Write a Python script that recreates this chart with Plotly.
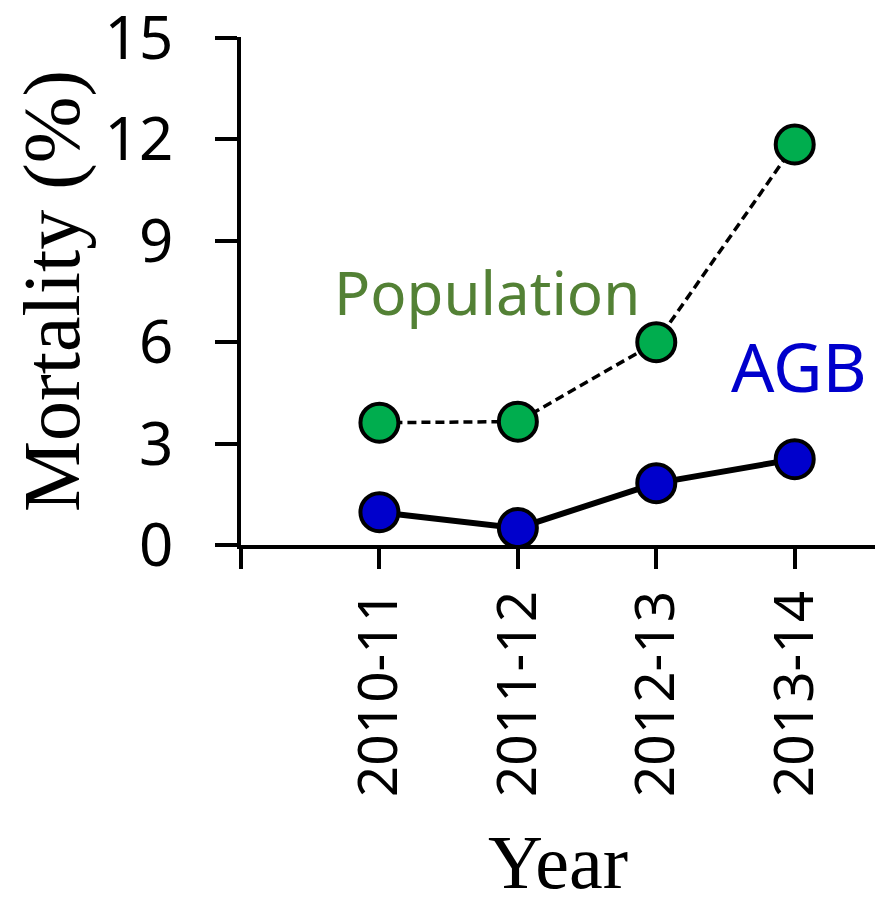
import plotly.graph_objects as go

# data
years = ["2010-11", "2011-12", "2012-13", "2013-14"]
population = [3.62, 3.65, 6.0, 11.85]
agb = [0.97, 0.5, 1.83, 2.54]

x_pos = list(range(len(years)))

fig = go.Figure()

fig.add_trace(go.Scatter(
    x=x_pos, y=population, mode="lines+markers",
    line=dict(color="black", width=3.5, dash="9px,5px"),
    marker=dict(size=38, color="#00AD4E", line=dict(color="black", width=4)),
    showlegend=False,
))

fig.add_trace(go.Scatter(
    x=x_pos, y=agb, mode="lines+markers",
    line=dict(color="black", width=6),
    marker=dict(size=38, color="#0000CC", line=dict(color="black", width=4)),
    showlegend=False,
))

# series labels
fig.add_annotation(x=0.78, y=7.5, text="Population", showarrow=False,
                   font=dict(family="Noto Sans", size=60, color="#538135"))
fig.add_annotation(x=3.03, y=5.3, text="AGB", showarrow=False,
                   font=dict(family="Noto Sans", size=68, color="#0000CC"))

fig.update_layout(
    width=879, height=905,
    margin=dict(l=233, r=12, t=29, b=368),
    plot_bgcolor="white", paper_bgcolor="white",
)

fig.update_xaxes(
    range=[-1, 3.58],
    tickvals=[-1] + x_pos, ticktext=[""] + years,
    tickangle=-90, automargin=False,
    ticks="outside", ticklen=20, tickwidth=3.5, tickcolor="black",
    showline=True, linewidth=3.5, linecolor="black",
    showgrid=False, zeroline=False,
    tickfont=dict(family="Noto Sans", size=55, color="black"),
    title=dict(text="Year", font=dict(family="Liberation Serif", size=76, color="black"),
               standoff=40),
)

fig.update_yaxes(
    range=[0, 15.03], tickvals=[0, 3, 6, 9, 12, 15],
    automargin=False,
    ticks="outside", ticklen=22, tickwidth=3.5, tickcolor="black",
    showline=True, linewidth=3.5, linecolor="black",
    showgrid=False, zeroline=False,
    ticklabelstandoff=30, ticklabeloverflow="allow",
    tickfont=dict(family="Noto Sans", size=60, color="black"),
    title=dict(text="Mortality (%)", font=dict(family="Liberation Serif", size=80, color="black"),
               standoff=25),
)

fig.write_html("out.html")
